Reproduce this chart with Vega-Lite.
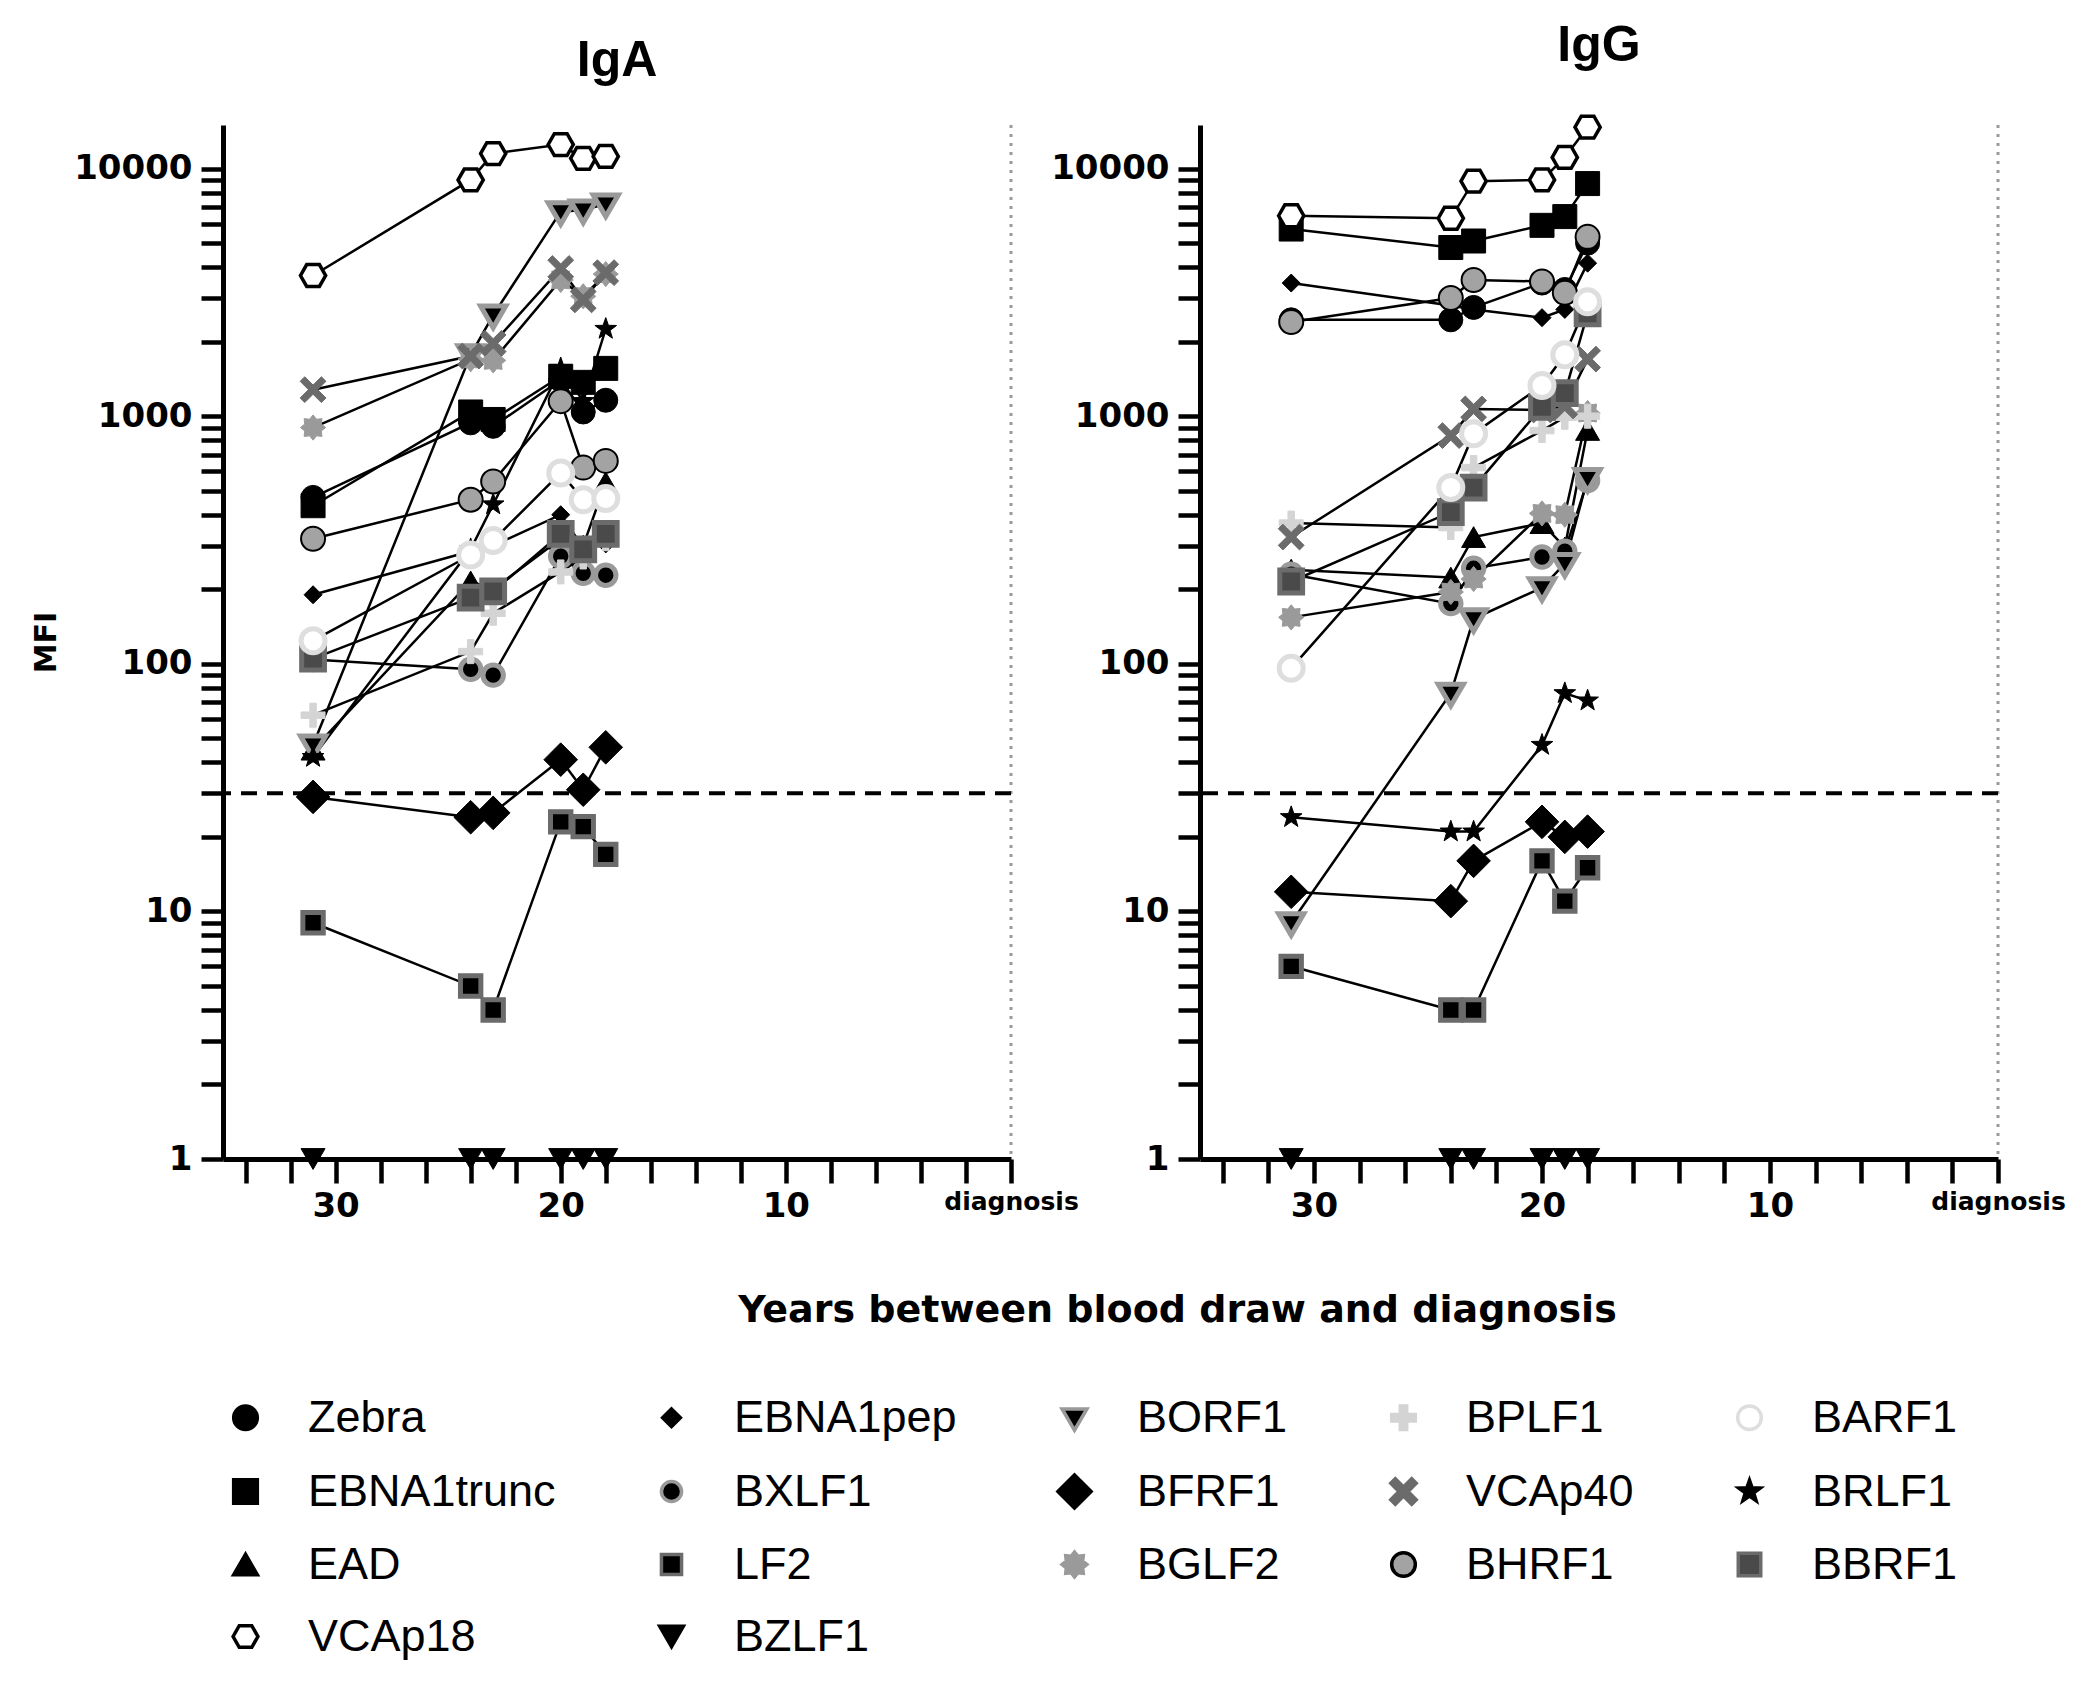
{
  "$schema": "https://vega.github.io/schema/vega-lite/v6.json",
  "background": "white",
  "padding": {"left": 31, "top": 21, "right": 5, "bottom": 5},
  "spacing": 189,
  "bounds": "flush",
  "data": {"values": [
    {"panel":"IgA","antigen":"Zebra","years":31,"mfi":470},{"panel":"IgA","antigen":"Zebra","years":24,"mfi":940},{"panel":"IgA","antigen":"Zebra","years":23,"mfi":910},{"panel":"IgA","antigen":"Zebra","years":20,"mfi":1400},{"panel":"IgA","antigen":"Zebra","years":19,"mfi":1040},{"panel":"IgA","antigen":"Zebra","years":18,"mfi":1160},
    {"panel":"IgA","antigen":"EBNA1trunc","years":31,"mfi":435},{"panel":"IgA","antigen":"EBNA1trunc","years":24,"mfi":1040},{"panel":"IgA","antigen":"EBNA1trunc","years":23,"mfi":970},{"panel":"IgA","antigen":"EBNA1trunc","years":20,"mfi":1450},{"panel":"IgA","antigen":"EBNA1trunc","years":19,"mfi":1370},{"panel":"IgA","antigen":"EBNA1trunc","years":18,"mfi":1560},
    {"panel":"IgA","antigen":"EAD","years":31,"mfi":45},{"panel":"IgA","antigen":"EAD","years":24,"mfi":215},{"panel":"IgA","antigen":"EAD","years":23,"mfi":200},{"panel":"IgA","antigen":"EAD","years":20,"mfi":320},{"panel":"IgA","antigen":"EAD","years":19,"mfi":300},{"panel":"IgA","antigen":"EAD","years":18,"mfi":540},
    {"panel":"IgA","antigen":"VCAp18","years":31,"mfi":3700},{"panel":"IgA","antigen":"VCAp18","years":24,"mfi":9000},{"panel":"IgA","antigen":"VCAp18","years":23,"mfi":11500},{"panel":"IgA","antigen":"VCAp18","years":20,"mfi":12500},{"panel":"IgA","antigen":"VCAp18","years":19,"mfi":11000},{"panel":"IgA","antigen":"VCAp18","years":18,"mfi":11200},
    {"panel":"IgA","antigen":"EBNA1pep","years":31,"mfi":190},{"panel":"IgA","antigen":"EBNA1pep","years":24,"mfi":285},{"panel":"IgA","antigen":"EBNA1pep","years":23,"mfi":300},{"panel":"IgA","antigen":"EBNA1pep","years":20,"mfi":400},{"panel":"IgA","antigen":"EBNA1pep","years":19,"mfi":295},{"panel":"IgA","antigen":"EBNA1pep","years":18,"mfi":305},
    {"panel":"IgA","antigen":"BXLF1","years":31,"mfi":104},{"panel":"IgA","antigen":"BXLF1","years":24,"mfi":95},{"panel":"IgA","antigen":"BXLF1","years":23,"mfi":90},{"panel":"IgA","antigen":"BXLF1","years":20,"mfi":272},{"panel":"IgA","antigen":"BXLF1","years":19,"mfi":232},{"panel":"IgA","antigen":"BXLF1","years":18,"mfi":228},
    {"panel":"IgA","antigen":"LF2","years":31,"mfi":9},{"panel":"IgA","antigen":"LF2","years":24,"mfi":5},{"panel":"IgA","antigen":"LF2","years":23,"mfi":4},{"panel":"IgA","antigen":"LF2","years":20,"mfi":23},{"panel":"IgA","antigen":"LF2","years":19,"mfi":22},{"panel":"IgA","antigen":"LF2","years":18,"mfi":17},
    {"panel":"IgA","antigen":"BZLF1","years":31,"mfi":1},{"panel":"IgA","antigen":"BZLF1","years":24,"mfi":1},{"panel":"IgA","antigen":"BZLF1","years":23,"mfi":1},{"panel":"IgA","antigen":"BZLF1","years":20,"mfi":1},{"panel":"IgA","antigen":"BZLF1","years":19,"mfi":1},{"panel":"IgA","antigen":"BZLF1","years":18,"mfi":1},
    {"panel":"IgA","antigen":"BORF1","years":31,"mfi":47},{"panel":"IgA","antigen":"BORF1","years":24,"mfi":1770},{"panel":"IgA","antigen":"BORF1","years":23,"mfi":2560},{"panel":"IgA","antigen":"BORF1","years":20,"mfi":6700},{"panel":"IgA","antigen":"BORF1","years":19,"mfi":6800},{"panel":"IgA","antigen":"BORF1","years":18,"mfi":7200},
    {"panel":"IgA","antigen":"BFRF1","years":31,"mfi":29},{"panel":"IgA","antigen":"BFRF1","years":24,"mfi":24},{"panel":"IgA","antigen":"BFRF1","years":23,"mfi":25},{"panel":"IgA","antigen":"BFRF1","years":20,"mfi":41},{"panel":"IgA","antigen":"BFRF1","years":19,"mfi":31},{"panel":"IgA","antigen":"BFRF1","years":18,"mfi":46},
    {"panel":"IgA","antigen":"BGLF2","years":31,"mfi":900},{"panel":"IgA","antigen":"BGLF2","years":24,"mfi":1700},{"panel":"IgA","antigen":"BGLF2","years":23,"mfi":1680},{"panel":"IgA","antigen":"BGLF2","years":20,"mfi":3550},{"panel":"IgA","antigen":"BGLF2","years":19,"mfi":3050},{"panel":"IgA","antigen":"BGLF2","years":18,"mfi":3750},
    {"panel":"IgA","antigen":"BRLF1","years":31,"mfi":42},{"panel":"IgA","antigen":"BRLF1","years":24,"mfi":290},{"panel":"IgA","antigen":"BRLF1","years":23,"mfi":440},{"panel":"IgA","antigen":"BRLF1","years":20,"mfi":1560},{"panel":"IgA","antigen":"BRLF1","years":19,"mfi":1150},{"panel":"IgA","antigen":"BRLF1","years":18,"mfi":2250},
    {"panel":"IgA","antigen":"BPLF1","years":31,"mfi":62},{"panel":"IgA","antigen":"BPLF1","years":24,"mfi":112},{"panel":"IgA","antigen":"BPLF1","years":23,"mfi":160},{"panel":"IgA","antigen":"BPLF1","years":20,"mfi":235},{"panel":"IgA","antigen":"BPLF1","years":19,"mfi":270},{"panel":"IgA","antigen":"BPLF1","years":18,"mfi":320},
    {"panel":"IgA","antigen":"VCAp40","years":31,"mfi":1280},{"panel":"IgA","antigen":"VCAp40","years":24,"mfi":1750},{"panel":"IgA","antigen":"VCAp40","years":23,"mfi":1970},{"panel":"IgA","antigen":"VCAp40","years":20,"mfi":3950},{"panel":"IgA","antigen":"VCAp40","years":19,"mfi":2950},{"panel":"IgA","antigen":"VCAp40","years":18,"mfi":3800},
    {"panel":"IgA","antigen":"BHRF1","years":31,"mfi":320},{"panel":"IgA","antigen":"BHRF1","years":24,"mfi":460},{"panel":"IgA","antigen":"BHRF1","years":23,"mfi":545},{"panel":"IgA","antigen":"BHRF1","years":20,"mfi":1150},{"panel":"IgA","antigen":"BHRF1","years":19,"mfi":620},{"panel":"IgA","antigen":"BHRF1","years":18,"mfi":660},
    {"panel":"IgA","antigen":"BBRF1","years":31,"mfi":105},{"panel":"IgA","antigen":"BBRF1","years":24,"mfi":185},{"panel":"IgA","antigen":"BBRF1","years":23,"mfi":196},{"panel":"IgA","antigen":"BBRF1","years":20,"mfi":335},{"panel":"IgA","antigen":"BBRF1","years":19,"mfi":290},{"panel":"IgA","antigen":"BBRF1","years":18,"mfi":335},
    {"panel":"IgA","antigen":"BARF1","years":31,"mfi":124},{"panel":"IgA","antigen":"BARF1","years":24,"mfi":275},{"panel":"IgA","antigen":"BARF1","years":23,"mfi":315},{"panel":"IgA","antigen":"BARF1","years":20,"mfi":590},{"panel":"IgA","antigen":"BARF1","years":19,"mfi":460},{"panel":"IgA","antigen":"BARF1","years":18,"mfi":465},
    {"panel":"IgG","antigen":"Zebra","years":31,"mfi":2450},{"panel":"IgG","antigen":"Zebra","years":24,"mfi":2450},{"panel":"IgG","antigen":"Zebra","years":23,"mfi":2750},{"panel":"IgG","antigen":"Zebra","years":20,"mfi":3450},{"panel":"IgG","antigen":"Zebra","years":19,"mfi":3250},{"panel":"IgG","antigen":"Zebra","years":18,"mfi":5000},
    {"panel":"IgG","antigen":"EBNA1trunc","years":31,"mfi":5700},{"panel":"IgG","antigen":"EBNA1trunc","years":24,"mfi":4800},{"panel":"IgG","antigen":"EBNA1trunc","years":23,"mfi":5100},{"panel":"IgG","antigen":"EBNA1trunc","years":20,"mfi":5900},{"panel":"IgG","antigen":"EBNA1trunc","years":19,"mfi":6400},{"panel":"IgG","antigen":"EBNA1trunc","years":18,"mfi":8700},
    {"panel":"IgG","antigen":"EAD","years":31,"mfi":240},{"panel":"IgG","antigen":"EAD","years":24,"mfi":223},{"panel":"IgG","antigen":"EAD","years":23,"mfi":325},{"panel":"IgG","antigen":"EAD","years":20,"mfi":370},{"panel":"IgG","antigen":"EAD","years":19,"mfi":295},{"panel":"IgG","antigen":"EAD","years":18,"mfi":880},
    {"panel":"IgG","antigen":"VCAp18","years":31,"mfi":6450},{"panel":"IgG","antigen":"VCAp18","years":24,"mfi":6300},{"panel":"IgG","antigen":"VCAp18","years":23,"mfi":8900},{"panel":"IgG","antigen":"VCAp18","years":20,"mfi":9000},{"panel":"IgG","antigen":"VCAp18","years":19,"mfi":11100},{"panel":"IgG","antigen":"VCAp18","years":18,"mfi":14700},
    {"panel":"IgG","antigen":"EBNA1pep","years":31,"mfi":3450},{"panel":"IgG","antigen":"EBNA1pep","years":24,"mfi":2800},{"panel":"IgG","antigen":"EBNA1pep","years":23,"mfi":2700},{"panel":"IgG","antigen":"EBNA1pep","years":20,"mfi":2500},{"panel":"IgG","antigen":"EBNA1pep","years":19,"mfi":2700},{"panel":"IgG","antigen":"EBNA1pep","years":18,"mfi":4150},
    {"panel":"IgG","antigen":"BXLF1","years":31,"mfi":230},{"panel":"IgG","antigen":"BXLF1","years":24,"mfi":175},{"panel":"IgG","antigen":"BXLF1","years":23,"mfi":243},{"panel":"IgG","antigen":"BXLF1","years":20,"mfi":270},{"panel":"IgG","antigen":"BXLF1","years":19,"mfi":285},{"panel":"IgG","antigen":"BXLF1","years":18,"mfi":550},
    {"panel":"IgG","antigen":"LF2","years":31,"mfi":6},{"panel":"IgG","antigen":"LF2","years":24,"mfi":4},{"panel":"IgG","antigen":"LF2","years":23,"mfi":4},{"panel":"IgG","antigen":"LF2","years":20,"mfi":16},{"panel":"IgG","antigen":"LF2","years":19,"mfi":11},{"panel":"IgG","antigen":"LF2","years":18,"mfi":15},
    {"panel":"IgG","antigen":"BZLF1","years":31,"mfi":1},{"panel":"IgG","antigen":"BZLF1","years":24,"mfi":1},{"panel":"IgG","antigen":"BZLF1","years":23,"mfi":1},{"panel":"IgG","antigen":"BZLF1","years":20,"mfi":1},{"panel":"IgG","antigen":"BZLF1","years":19,"mfi":1},{"panel":"IgG","antigen":"BZLF1","years":18,"mfi":1},
    {"panel":"IgG","antigen":"BORF1","years":31,"mfi":9},{"panel":"IgG","antigen":"BORF1","years":24,"mfi":76},{"panel":"IgG","antigen":"BORF1","years":23,"mfi":152},{"panel":"IgG","antigen":"BORF1","years":20,"mfi":203},{"panel":"IgG","antigen":"BORF1","years":19,"mfi":254},{"panel":"IgG","antigen":"BORF1","years":18,"mfi":560},
    {"panel":"IgG","antigen":"BFRF1","years":31,"mfi":12},{"panel":"IgG","antigen":"BFRF1","years":24,"mfi":11},{"panel":"IgG","antigen":"BFRF1","years":23,"mfi":16},{"panel":"IgG","antigen":"BFRF1","years":20,"mfi":23},{"panel":"IgG","antigen":"BFRF1","years":19,"mfi":20},{"panel":"IgG","antigen":"BFRF1","years":18,"mfi":21},
    {"panel":"IgG","antigen":"BGLF2","years":31,"mfi":154},{"panel":"IgG","antigen":"BGLF2","years":24,"mfi":195},{"panel":"IgG","antigen":"BGLF2","years":23,"mfi":220},{"panel":"IgG","antigen":"BGLF2","years":20,"mfi":405},{"panel":"IgG","antigen":"BGLF2","years":19,"mfi":400},{"panel":"IgG","antigen":"BGLF2","years":18,"mfi":1030},
    {"panel":"IgG","antigen":"BRLF1","years":31,"mfi":24},{"panel":"IgG","antigen":"BRLF1","years":24,"mfi":21},{"panel":"IgG","antigen":"BRLF1","years":23,"mfi":21},{"panel":"IgG","antigen":"BRLF1","years":20,"mfi":47},{"panel":"IgG","antigen":"BRLF1","years":19,"mfi":76},{"panel":"IgG","antigen":"BRLF1","years":18,"mfi":71},
    {"panel":"IgG","antigen":"BPLF1","years":31,"mfi":370},{"panel":"IgG","antigen":"BPLF1","years":24,"mfi":355},{"panel":"IgG","antigen":"BPLF1","years":23,"mfi":620},{"panel":"IgG","antigen":"BPLF1","years":20,"mfi":875},{"panel":"IgG","antigen":"BPLF1","years":19,"mfi":990},{"panel":"IgG","antigen":"BPLF1","years":18,"mfi":1000},
    {"panel":"IgG","antigen":"VCAp40","years":31,"mfi":325},{"panel":"IgG","antigen":"VCAp40","years":24,"mfi":835},{"panel":"IgG","antigen":"VCAp40","years":23,"mfi":1070},{"panel":"IgG","antigen":"VCAp40","years":20,"mfi":1060},{"panel":"IgG","antigen":"VCAp40","years":19,"mfi":1100},{"panel":"IgG","antigen":"VCAp40","years":18,"mfi":1700},
    {"panel":"IgG","antigen":"BHRF1","years":31,"mfi":2400},{"panel":"IgG","antigen":"BHRF1","years":24,"mfi":3000},{"panel":"IgG","antigen":"BHRF1","years":23,"mfi":3550},{"panel":"IgG","antigen":"BHRF1","years":20,"mfi":3500},{"panel":"IgG","antigen":"BHRF1","years":19,"mfi":3150},{"panel":"IgG","antigen":"BHRF1","years":18,"mfi":5300},
    {"panel":"IgG","antigen":"BBRF1","years":31,"mfi":215},{"panel":"IgG","antigen":"BBRF1","years":24,"mfi":410},{"panel":"IgG","antigen":"BBRF1","years":23,"mfi":515},{"panel":"IgG","antigen":"BBRF1","years":20,"mfi":1090},{"panel":"IgG","antigen":"BBRF1","years":19,"mfi":1240},{"panel":"IgG","antigen":"BBRF1","years":18,"mfi":2600},
    {"panel":"IgG","antigen":"BARF1","years":31,"mfi":96},{"panel":"IgG","antigen":"BARF1","years":24,"mfi":515},{"panel":"IgG","antigen":"BARF1","years":23,"mfi":850},{"panel":"IgG","antigen":"BARF1","years":20,"mfi":1330},{"panel":"IgG","antigen":"BARF1","years":19,"mfi":1770},{"panel":"IgG","antigen":"BARF1","years":18,"mfi":2900}
  ]},
  "config": {
    "view": {"stroke": null},
    "axis": {"domainColor": "black", "domainWidth": 5, "tickColor": "black", "tickWidth": 4.5, "labelFont": "DejaVu Sans", "labelFontWeight": "bold", "labelColor": "black", "labelFontSize": 34, "titleFont": "DejaVu Sans", "titleFontWeight": "bold", "titleColor": "black", "grid": false, "labelOverlap": false, "labelFlush": false, "labelBound": false},
    "title": {"font": "Liberation Sans", "fontSize": 50, "fontWeight": "bold", "color": "black", "offset": 38, "anchor": "middle"},
    "legend": {"orient": "bottom", "columns": 5, "labelFont": "Liberation Sans", "labelFontSize": 45, "labelColor": "black", "symbolSize": 560, "symbolStrokeWidth": 3.5, "rowPadding": 26, "columnPadding": 93, "labelOffset": 40, "offset": 66, "labelLimit": 400}
  },
  "hconcat": [
    {
      "width": 788, "height": 1034,
      "title": {"text": "IgA"},
      "layer": [
        {"data": {"values": [{}]}, "mark": {"type": "rule", "color": "#9a9a9a", "strokeWidth": 3, "strokeDash": [3, 6]}, "encoding": {"x": {"datum": 0, "type": "quantitative"}}},
        {"data": {"values": [{}]}, "mark": {"type": "rule", "color": "black", "strokeWidth": 4, "strokeDash": [16, 10]}, "encoding": {"y": {"datum": 30, "type": "quantitative"}}},
        {
          "transform": [{"filter": "datum.panel === 'IgA'"}],
          "mark": {"type": "line", "color": "black", "strokeWidth": 2.5},
          "encoding": {
            "x": {"field": "years", "type": "quantitative", "scale": {"domain": [0, 35], "reverse": true, "nice": false, "zero": false},
              "axis": {"values": [34,32,30,28,26,24,22,20,18,16,14,12,10,8,6,4,2,0], "labelExpr": "datum.value == 0 ? 'diagnosis' : (datum.value % 10 == 0 ? datum.label : '')", "labelFontSize": {"condition": {"test": "datum.value == 0", "value": 25}, "value": 34}, "tickSize": 24, "labelPadding": 6, "encode": {"ticks": {"y2": {"value": {"expr": "datum.value % 10 == 0 ? 24 : 13"}}}}, "title": "Years between blood draw and diagnosis", "titleFontSize": 38, "titleX": 954, "titleY": 162, "titleBaseline": "alphabetic", "titleAlign": "center"}},
            "y": {"field": "mfi", "type": "quantitative", "scale": {"type": "log", "domain": [1, 15000], "nice": false},
              "axis": {"values": [1,2,3,4,5,6,7,8,9,10,20,30,40,50,60,70,80,90,100,200,300,400,500,600,700,800,900,1000,2000,3000,4000,5000,6000,7000,8000,9000,10000], "format": "d", "labelExpr": "indexof([1,10,100,1000,10000], datum.value) >= 0 ? datum.label : ''", "tickSize": 22, "labelPadding": 9, "encode": {"ticks": {"x2": {"value": {"expr": "indexof([1,10,100,1000,10000], datum.value) >= 0 ? -22 : -11"}}}}, "title": "MFI", "titleFontSize": 30, "titlePadding": 12}},
            "detail": {"field": "antigen"}
          }
        },
        {
          "transform": [{"filter": "datum.panel === 'IgA'"}],
          "mark": {"type": "point", "filled": true, "opacity": 1, "size": 576},
          "encoding": {
            "x": {"field": "years", "type": "quantitative"},
            "y": {"field": "mfi", "type": "quantitative"},
            "shape": {"field": "antigen", "type": "nominal", "legend": {"title": null},
              "scale": {"domain": ["Zebra","EBNA1pep","BORF1","BPLF1","BARF1","EBNA1trunc","BXLF1","BFRF1","VCAp40","BRLF1","EAD","LF2","BGLF2","BHRF1","BBRF1","VCAp18","BZLF1"],
                "range": ["circle", "M 0 -0.75 L 0.75 0 L 0 0.75 L -0.75 0 Z", "M -1.05 -0.75 L 1.05 -0.75 L 0 1.05 Z", "M -0.27 -1 L 0.27 -1 L 0.27 -0.27 L 1 -0.27 L 1 0.27 L 0.27 0.27 L 0.27 1 L -0.27 1 L -0.27 0.27 L -1 0.27 L -1 -0.27 L -0.27 -0.27 Z", "circle", "square", "M 0.85 0 A 0.85 0.85 0 1 1 -0.85 0 A 0.85 0.85 0 1 1 0.85 0 Z", "M 0 -1.4 L 1.4 0 L 0 1.4 L -1.4 0 Z", "M 0.693 -1.075 L 1.075 -0.693 L 0.382 0 L 1.075 0.693 L 0.693 1.075 L 0 0.382 L -0.693 1.075 L -1.075 0.693 L -0.382 0 L -1.075 -0.693 L -0.693 -1.075 L 0 -0.382 Z", "M 0 -0.95 L 0.2234 -0.3074 L 0.9035 -0.2936 L 0.3614 0.1174 L 0.5584 0.7686 L 0 0.38 L -0.5584 0.7686 L -0.3614 0.1174 L -0.9035 -0.2936 L -0.2234 -0.3074 Z", "triangle-up", "M -0.85 -0.85 L 0.85 -0.85 L 0.85 0.85 L -0.85 0.85 Z", "M 1.05 0 L 0.693 0.287 L 0.742 0.742 L 0.287 0.693 L 0 1.05 L -0.287 0.693 L -0.742 0.742 L -0.693 0.287 L -1.05 0 L -0.693 -0.287 L -0.742 -0.742 L -0.287 -0.693 L 0 -1.05 L 0.287 -0.693 L 0.742 -0.742 L 0.693 -0.287 Z", "circle", "M -0.95 -0.95 L 0.95 -0.95 L 0.95 0.95 L -0.95 0.95 Z", "M -1.05 0 L -0.53 -0.91 L 0.53 -0.91 L 1.05 0 L 0.53 0.91 L -0.53 0.91 Z", "triangle-down"]}},
            "fill": {"field": "antigen", "type": "nominal", "legend": {"title": null},
              "scale": {"domain": ["Zebra","EBNA1pep","BORF1","BPLF1","BARF1","EBNA1trunc","BXLF1","BFRF1","VCAp40","BRLF1","EAD","LF2","BGLF2","BHRF1","BBRF1","VCAp18","BZLF1"],
                "range": ["#000000","#000000","#000000","#d4d4d4","#ffffff","#000000","#000000","#000000","#6b6b6b","#000000","#000000","#000000","#9a9a9a","#a3a3a3","#4a4a4a","#ffffff","#000000"]}},
            "stroke": {"field": "antigen", "type": "nominal", "legend": {"title": null},
              "scale": {"domain": ["Zebra","EBNA1pep","BORF1","BPLF1","BARF1","EBNA1trunc","BXLF1","BFRF1","VCAp40","BRLF1","EAD","LF2","BGLF2","BHRF1","BBRF1","VCAp18","BZLF1"],
                "range": ["#000000","#000000","#9a9a9a","#d4d4d4","#dedede","#000000","#9a9a9a","#000000","#6b6b6b","#000000","#000000","#6b6b6b","#9a9a9a","#000000","#6b6b6b","#000000","#000000"]}},
            "strokeWidth": {"condition": [{"test": "indexof(['BXLF1','LF2','BORF1','BBRF1','BARF1'], datum.antigen) >= 0", "value": 5}, {"test": "datum.antigen === 'VCAp18'", "value": 3.5}, {"test": "datum.antigen === 'BHRF1'", "value": 2}], "value": 1}
          }
        }
      ]
    },
    {
      "width": 798, "height": 1034,
      "title": {"text": "IgG"},
      "layer": [
        {"data": {"values": [{}]}, "mark": {"type": "rule", "color": "#9a9a9a", "strokeWidth": 3, "strokeDash": [3, 6]}, "encoding": {"x": {"datum": 0, "type": "quantitative"}}},
        {"data": {"values": [{}]}, "mark": {"type": "rule", "color": "black", "strokeWidth": 4, "strokeDash": [16, 10]}, "encoding": {"y": {"datum": 30, "type": "quantitative"}}},
        {
          "transform": [{"filter": "datum.panel === 'IgG'"}],
          "mark": {"type": "line", "color": "black", "strokeWidth": 2.5},
          "encoding": {
            "x": {"field": "years", "type": "quantitative", "scale": {"domain": [0, 35], "reverse": true, "nice": false, "zero": false},
              "axis": {"values": [34,32,30,28,26,24,22,20,18,16,14,12,10,8,6,4,2,0], "labelExpr": "datum.value == 0 ? 'diagnosis' : (datum.value % 10 == 0 ? datum.label : '')", "labelFontSize": {"condition": {"test": "datum.value == 0", "value": 25}, "value": 34}, "tickSize": 24, "labelPadding": 6, "encode": {"ticks": {"y2": {"value": {"expr": "datum.value % 10 == 0 ? 24 : 13"}}}}, "title": null}},
            "y": {"field": "mfi", "type": "quantitative", "scale": {"type": "log", "domain": [1, 15000], "nice": false},
              "axis": {"values": [1,2,3,4,5,6,7,8,9,10,20,30,40,50,60,70,80,90,100,200,300,400,500,600,700,800,900,1000,2000,3000,4000,5000,6000,7000,8000,9000,10000], "format": "d", "labelExpr": "indexof([1,10,100,1000,10000], datum.value) >= 0 ? datum.label : ''", "tickSize": 22, "labelPadding": 9, "encode": {"ticks": {"x2": {"value": {"expr": "indexof([1,10,100,1000,10000], datum.value) >= 0 ? -22 : -11"}}}}, "title": null}},
            "detail": {"field": "antigen"}
          }
        },
        {
          "transform": [{"filter": "datum.panel === 'IgG'"}],
          "mark": {"type": "point", "filled": true, "opacity": 1, "size": 576},
          "encoding": {
            "x": {"field": "years", "type": "quantitative"},
            "y": {"field": "mfi", "type": "quantitative"},
            "shape": {"field": "antigen", "type": "nominal", "legend": {"title": null},
              "scale": {"domain": ["Zebra","EBNA1pep","BORF1","BPLF1","BARF1","EBNA1trunc","BXLF1","BFRF1","VCAp40","BRLF1","EAD","LF2","BGLF2","BHRF1","BBRF1","VCAp18","BZLF1"],
                "range": ["circle", "M 0 -0.75 L 0.75 0 L 0 0.75 L -0.75 0 Z", "M -1.05 -0.75 L 1.05 -0.75 L 0 1.05 Z", "M -0.27 -1 L 0.27 -1 L 0.27 -0.27 L 1 -0.27 L 1 0.27 L 0.27 0.27 L 0.27 1 L -0.27 1 L -0.27 0.27 L -1 0.27 L -1 -0.27 L -0.27 -0.27 Z", "circle", "square", "M 0.85 0 A 0.85 0.85 0 1 1 -0.85 0 A 0.85 0.85 0 1 1 0.85 0 Z", "M 0 -1.4 L 1.4 0 L 0 1.4 L -1.4 0 Z", "M 0.693 -1.075 L 1.075 -0.693 L 0.382 0 L 1.075 0.693 L 0.693 1.075 L 0 0.382 L -0.693 1.075 L -1.075 0.693 L -0.382 0 L -1.075 -0.693 L -0.693 -1.075 L 0 -0.382 Z", "M 0 -0.95 L 0.2234 -0.3074 L 0.9035 -0.2936 L 0.3614 0.1174 L 0.5584 0.7686 L 0 0.38 L -0.5584 0.7686 L -0.3614 0.1174 L -0.9035 -0.2936 L -0.2234 -0.3074 Z", "triangle-up", "M -0.85 -0.85 L 0.85 -0.85 L 0.85 0.85 L -0.85 0.85 Z", "M 1.05 0 L 0.693 0.287 L 0.742 0.742 L 0.287 0.693 L 0 1.05 L -0.287 0.693 L -0.742 0.742 L -0.693 0.287 L -1.05 0 L -0.693 -0.287 L -0.742 -0.742 L -0.287 -0.693 L 0 -1.05 L 0.287 -0.693 L 0.742 -0.742 L 0.693 -0.287 Z", "circle", "M -0.95 -0.95 L 0.95 -0.95 L 0.95 0.95 L -0.95 0.95 Z", "M -1.05 0 L -0.53 -0.91 L 0.53 -0.91 L 1.05 0 L 0.53 0.91 L -0.53 0.91 Z", "triangle-down"]}},
            "fill": {"field": "antigen", "type": "nominal", "legend": {"title": null},
              "scale": {"domain": ["Zebra","EBNA1pep","BORF1","BPLF1","BARF1","EBNA1trunc","BXLF1","BFRF1","VCAp40","BRLF1","EAD","LF2","BGLF2","BHRF1","BBRF1","VCAp18","BZLF1"],
                "range": ["#000000","#000000","#000000","#d4d4d4","#ffffff","#000000","#000000","#000000","#6b6b6b","#000000","#000000","#000000","#9a9a9a","#a3a3a3","#4a4a4a","#ffffff","#000000"]}},
            "stroke": {"field": "antigen", "type": "nominal", "legend": {"title": null},
              "scale": {"domain": ["Zebra","EBNA1pep","BORF1","BPLF1","BARF1","EBNA1trunc","BXLF1","BFRF1","VCAp40","BRLF1","EAD","LF2","BGLF2","BHRF1","BBRF1","VCAp18","BZLF1"],
                "range": ["#000000","#000000","#9a9a9a","#d4d4d4","#dedede","#000000","#9a9a9a","#000000","#6b6b6b","#000000","#000000","#6b6b6b","#9a9a9a","#000000","#6b6b6b","#000000","#000000"]}},
            "strokeWidth": {"condition": [{"test": "indexof(['BXLF1','LF2','BORF1','BBRF1','BARF1'], datum.antigen) >= 0", "value": 5}, {"test": "datum.antigen === 'VCAp18'", "value": 3.5}, {"test": "datum.antigen === 'BHRF1'", "value": 2}], "value": 1}
          }
        }
      ]
    }
  ]
}
